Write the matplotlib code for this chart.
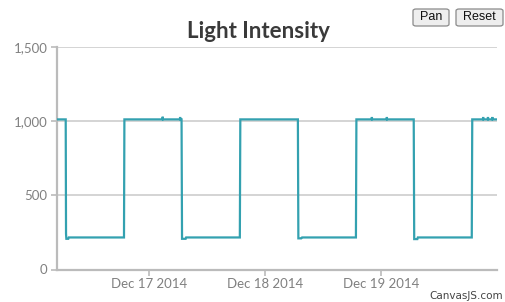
import matplotlib
matplotlib.use("Agg")
import matplotlib.pyplot as plt
import matplotlib.dates as mdates
from matplotlib.patches import FancyBboxPatch
from matplotlib.ticker import FuncFormatter
import pandas as pd

title = "Light Intensity"
times = [
    "2014-12-16 05:00", "2014-12-16 06:48", "2014-12-16 06:52", "2014-12-16 06:56",
    "2014-12-16 07:20", "2014-12-16 07:26", "2014-12-16 18:51", "2014-12-16 18:56",
    "2014-12-17 02:48", "2014-12-17 02:51", "2014-12-17 02:54",
    "2014-12-17 06:24", "2014-12-17 06:27", "2014-12-17 06:30",
    "2014-12-17 06:45", "2014-12-17 06:51", "2014-12-17 07:36", "2014-12-17 07:42",
    "2014-12-17 18:48", "2014-12-17 18:54",
    "2014-12-18 06:48", "2014-12-18 06:54", "2014-12-18 07:30", "2014-12-18 07:40",
    "2014-12-18 18:48", "2014-12-18 18:54",
    "2014-12-18 22:03", "2014-12-18 22:06", "2014-12-18 22:09",
    "2014-12-19 01:09", "2014-12-19 01:12", "2014-12-19 01:15",
    "2014-12-19 06:45", "2014-12-19 06:51", "2014-12-19 07:30", "2014-12-19 07:36",
    "2014-12-19 18:45", "2014-12-19 18:51",
    "2014-12-19 21:03", "2014-12-19 21:06", "2014-12-19 21:09",
    "2014-12-19 22:03", "2014-12-19 22:06", "2014-12-19 22:09",
    "2014-12-19 22:57", "2014-12-19 23:00", "2014-12-19 23:03",
    "2014-12-19 23:58",
]
values = [
    1012, 1012, 240, 207,
    207, 216, 216, 1012,
    1012, 1030, 1012,
    1012, 1028, 1012,
    1012, 207, 207, 216,
    216, 1012,
    1012, 210, 210, 216,
    216, 1012,
    1012, 1028, 1012,
    1012, 1028, 1012,
    1012, 205, 205, 216,
    216, 1012,
    1012, 1028, 1012,
    1012, 1028, 1012,
    1012, 1028, 1012,
    1012,
]
y_ticks = [0, 500, 1000, 1500]
x_ticks = ["2014-12-17", "2014-12-18", "2014-12-19"]

t = pd.to_datetime(times)

W, H = 505, 302
fig = plt.figure(figsize=(W / 100, H / 100), dpi=100)
L, R, B, T = 57, 497, 269.5, 47
ax = fig.add_axes([L / W, 1 - B / H, (R - L) / W, (B - T) / H])

font = "Lato"
grey = "#808080"

ax.plot(t, values, color="#33A1B0", lw=1.6, solid_joinstyle="miter", zorder=3)
ax.set_xlim(t[0], t[-1])
ax.set_ylim(0, 1500)

ax.set_yticks(y_ticks)
ax.yaxis.set_major_formatter(FuncFormatter(lambda v, p: f"{int(v):,}"))
ax.set_xticks(pd.to_datetime(x_ticks))
ax.xaxis.set_major_formatter(mdates.DateFormatter("%b %d %Y"))

for s in ["top", "right"]:
    ax.spines[s].set_visible(False)
for s in ["left", "bottom"]:
    ax.spines[s].set_color("#BBBBBB")
    ax.spines[s].set_linewidth(1.6)

ax.grid(axis="y", color="#D4D4D4", lw=1.4)
ax.set_axisbelow(True)
ax.tick_params(axis="both", colors="#BBBBBB", labelcolor=grey, labelsize=9.5,
               length=4, width=1.2)
ax.tick_params(axis="y", pad=3)
ax.tick_params(axis="x", pad=2)
for lab in ax.get_xticklabels() + ax.get_yticklabels():
    lab.set_fontfamily(font)

fig.text(258 / W, 1 - 32 / H, title, ha="center", va="center", fontsize=16,
         fontweight="bold", color="#3A3A3A", family=font)

fig.text(503 / W, 1 - 296 / H, "CanvasJS.com", ha="right", va="center",
         fontsize=7.5, color="#444444", family="DejaVu Sans")

# buttons
for (x0, x1, label) in [(413, 449, "Pan"), (456, 503, "Reset")]:
    y0, y1 = 9, 26
    box = FancyBboxPatch((x0 / W, 1 - y1 / H), (x1 - x0) / W, (y1 - y0) / H,
                         boxstyle="round,pad=0,rounding_size=0.006",
                         transform=fig.transFigure, facecolor="#EEEEEE",
                         edgecolor="#8A8A8A", lw=0.9)
    fig.add_artist(box)
    fig.text((x0 + x1) / 2 / W, 1 - (y0 + y1) / 2 / H, label, ha="center",
             va="center", fontsize=9, color="#111111", family="Liberation Sans")

fig.savefig("out.png", dpi=100)
